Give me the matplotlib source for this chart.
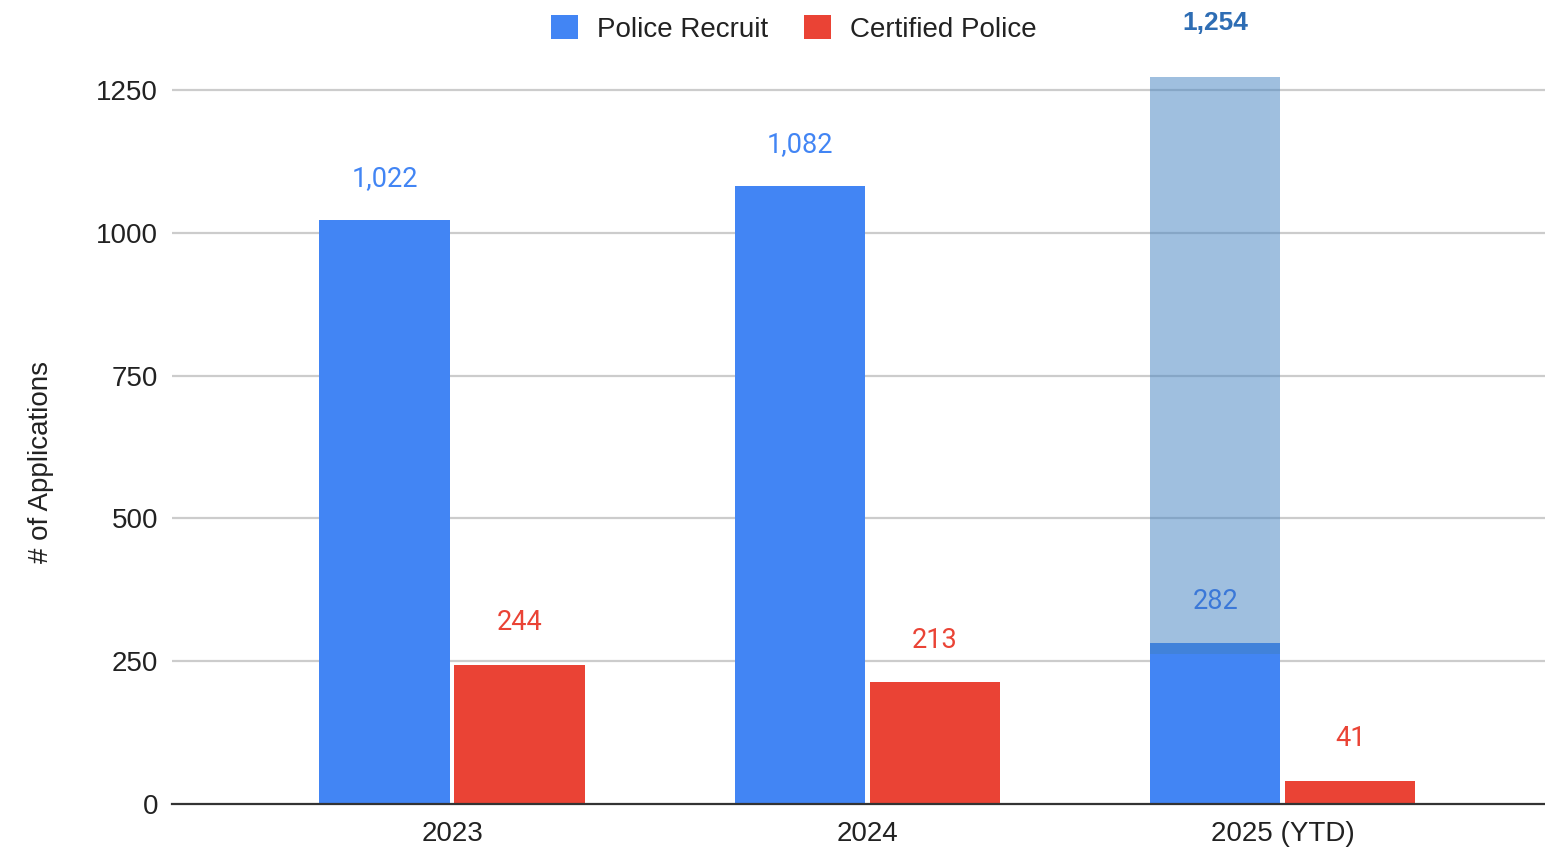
import matplotlib
matplotlib.use("Agg")
import matplotlib.pyplot as plt
from matplotlib.patches import Patch
import numpy as np

categories = ["2023", "2024", "2025 (YTD)"]
police_recruit = [1022, 1082, 282]
certified_police = [244, 213, 41]
recruit_labels = ["1,022", "1,082", "282"]
certified_labels = ["244", "213", "41"]
# translucent projection overlay on the 2025 recruit bar
projection_index = 2
projection_bottom = 262
projection_top = 1273
projection_label = "1,254"
yticks = [0, 250, 500, 750, 1000, 1250]

BLUE = "#4285F4"
RED = "#EA4335"
OVER = "#4181C1"

plt.rcParams['font.family'] = ['Liberation Sans', 'DejaVu Sans']

fig = plt.figure(figsize=(15.45, 8.51), dpi=100)
ax = fig.add_axes([172/1545, (851-804)/851, 1-172/1545, (1360*0.5712)/851])

x = np.arange(len(categories))
w = 0.313
off = 0.1625

ax.bar(x - off, police_recruit, w, color=BLUE, zorder=3)
ax.bar(x + off, certified_police, w, color=RED, zorder=3)
ax.bar(x[projection_index] - off, projection_top - projection_bottom, w,
       bottom=projection_bottom, color=OVER, alpha=0.5, zorder=4, linewidth=0)

for xi, v, t in zip(x, police_recruit, recruit_labels):
    ax.annotate(t, (xi - off, v), xytext=(0, 30), textcoords="offset points",
                ha="center", va="center", color=BLUE if xi != projection_index else "#3B78D8",
                fontsize=19.5, family=['Roboto', 'DejaVu Sans'], zorder=5)
for xi, v, t in zip(x, certified_police, certified_labels):
    ax.annotate(t, (xi + off, v), xytext=(0, 30), textcoords="offset points",
                ha="center", va="center", color=RED, fontsize=19.5,
                family=['Roboto', 'DejaVu Sans'], zorder=5)

ax.text(x[projection_index] - off, 1367, projection_label, ha="center", va="center",
        color="#2E6DB4", fontsize=19, fontweight="bold", clip_on=False)

ax.set_xlim(-0.674, 2.631)
ax.set_ylim(0, 1360)
ax.set_yticks(yticks)
ax.set_yticklabels([str(t) for t in yticks])
ax.set_xticks(x)
ax.set_xticklabels(categories)
ax.tick_params(axis='both', length=0, labelsize=20, colors="#222222")
ax.tick_params(axis='y', pad=10)
ax.tick_params(axis='x', pad=12)

for yt in yticks[1:]:
    ax.axhline(yt, color="#CCCCCC", lw=1.6, zorder=1)
for s in ["top", "right", "left"]:
    ax.spines[s].set_visible(False)
ax.spines["bottom"].set_color("#333333")
ax.spines["bottom"].set_linewidth(1.6)
ax.spines["bottom"].set_zorder(6)

ax.set_ylabel("# of Applications", fontsize=20, color="#222222")
ax.yaxis.set_label_coords(-0.086, 0.44)

handles = [Patch(facecolor=BLUE, label="Police Recruit"),
           Patch(facecolor=RED, label="Certified Police")]
fig.legend(handles=handles, loc="center", bbox_to_anchor=(794/1545, 1 - 29/851),
           ncol=2, frameon=False, fontsize=20, handlelength=0.95, handleheight=0.95,
           handletextpad=0.7, columnspacing=1.3, labelcolor="#222222")

fig.savefig("out.png", dpi=100)
